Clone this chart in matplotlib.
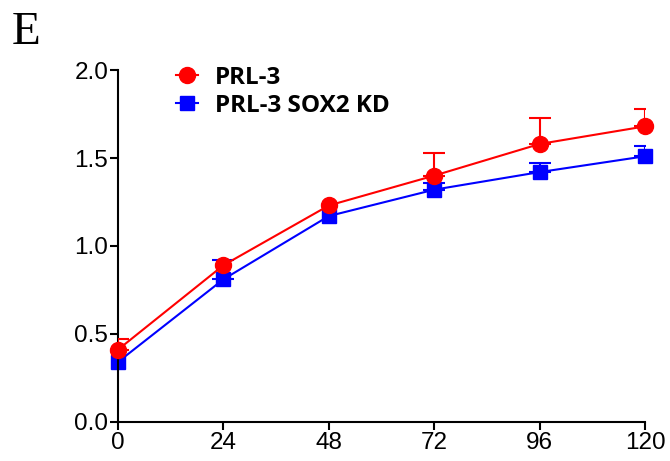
import matplotlib.pyplot as plt
from matplotlib.lines import Line2D
import numpy as np

# time points (h)
hours = [0, 24, 48, 72, 96, 120]
# PRL-3
prl3 = [0.41, 0.89, 1.23, 1.40, 1.58, 1.68]
prl3_err = [0.06, 0.0, 0.0, 0.13, 0.15, 0.10]
# PRL-3 SOX2 KD
kd = [0.34, 0.81, 1.17, 1.32, 1.42, 1.51]
kd_err = [0.0, 0.11, 0.0, 0.04, 0.05, 0.06]

red = '#ff0000'
blue = '#0000ff'

fig = plt.figure(figsize=(6.7, 4.61), dpi=100)
ax = fig.add_axes([0.176, 0.085, 0.787, 0.763])


def draw(y, err, color, marker, ms, z):
    x = np.array(hours)
    y = np.array(y)
    err = np.array(err)
    m = err > 0
    # upper error bars only, where there is one
    ax.errorbar(x[m], y[m], yerr=[np.zeros(m.sum()), err[m]], fmt='none',
                ecolor=color, capsize=8, elinewidth=1.5, capthick=1.5, zorder=z)
    ln, = ax.plot(x, y, color=color, marker=marker, markersize=ms, linewidth=1.5,
                  zorder=z)
    ln.set_clip_on(False)


draw(prl3, prl3_err, red, 'o', 11.5, 3)
draw(kd, kd_err, blue, 's', 10, 2)

ax.set_xlim(0, 120)
ax.set_ylim(0, 2.0)
ax.set_xticks(hours)
ax.set_yticks([0.0, 0.5, 1.0, 1.5, 2.0])
ax.set_yticklabels(['0.0', '0.5', '1.0', '1.5', '2.0'])
ax.spines['top'].set_visible(False)
ax.spines['right'].set_visible(False)
for s in ['left', 'bottom']:
    ax.spines[s].set_linewidth(1.5)
ax.tick_params(direction='out', length=6, width=1.5, labelsize=17.5, pad=1)
for lab in ax.get_xticklabels() + ax.get_yticklabels():
    lab.set_family('Liberation Sans')

handles = [Line2D([], [], color=red, marker='o', markersize=11.5, linewidth=1.5),
           Line2D([], [], color=blue, marker='s', markersize=10, linewidth=1.5)]
ax.legend(handles, ['PRL-3', 'PRL-3 SOX2 KD'], loc='upper left',
          bbox_to_anchor=(176 / 670, 1 - 66 / 461), bbox_transform=fig.transFigure,
          frameon=False, prop={'family': 'Open Sans', 'weight': 'bold', 'size': 17.5},
          handlelength=0.9, handletextpad=0.7, labelspacing=0.15, borderaxespad=0,
          borderpad=0)

fig.text(12 / 670, 1 - 11 / 461, 'E', family='Liberation Serif', fontsize=34,
         va='top', ha='left')

fig.savefig('out.png', dpi=100)
